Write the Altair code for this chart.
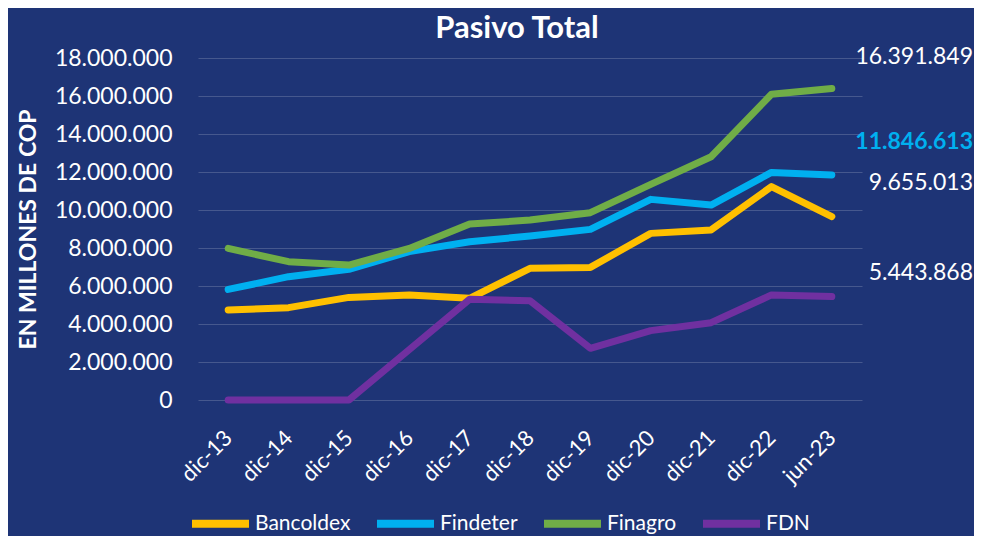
import altair as alt
import pandas as pd

periods = ["dic-13", "dic-14", "dic-15", "dic-16", "dic-17", "dic-18",
           "dic-19", "dic-20", "dic-21", "dic-22", "jun-23"]
series = ["Bancoldex", "Findeter", "Finagro", "FDN"]
colors = ["#FFC000", "#00B0F0", "#70AD47", "#7030A0"]

bancoldex = [4740000, 4860000, 5400000, 5530000, 5350000, 6930000,
             6980000, 8770000, 8950000, 11230000, 9655013]
findeter = [5820000, 6490000, 6880000, 7810000, 8330000, 8630000,
            8980000, 10560000, 10260000, 11980000, 11846613]
finagro = [7980000, 7280000, 7100000, 7980000, 9260000, 9470000,
           9860000, 11350000, 12800000, 16090000, 16391849]
fdn = [0, 0, 0, 2650000, 5300000, 5230000,
       2720000, 3650000, 4070000, 5530000, 5443868]

y_ticks = [0, 2000000, 4000000, 6000000, 8000000, 10000000,
           12000000, 14000000, 16000000, 18000000]

values = {"Bancoldex": bancoldex, "Findeter": findeter,
          "Finagro": finagro, "FDN": fdn}

rows = []
for s in series:
    for p, v in zip(periods, values[s]):
        rows.append({"Periodo": p, "Serie": s, "Valor": v})
df = pd.DataFrame(rows)

def fmt(v):
    return f"{v:,.0f}".replace(",", ".")

last = pd.DataFrame([{"Periodo": periods[-1], "Serie": s,
                      "Valor": values[s][-1], "Etiqueta": fmt(values[s][-1])}
                     for s in series])

FONT = "Lato"
Y_SCALE = alt.Scale(domain=[0, 18000000], nice=False, zero=True)

Y_AXIS = alt.Axis(values=y_ticks, labelOverlap=False,
                  labelBound=False, labelFlush=False,
                  labelExpr="replace(replace(format(datum.value, ','), ',', '.'), ',', '.')",
                  labelFontSize=23, labelColor="white", labelFont=FONT,
                  labelPadding=26, ticks=False, domain=False,
                  grid=True, gridColor="#ffffff", gridOpacity=0.18,
                  gridWidth=1.2,
                  titleFont=FONT, titleFontSize=23, titleColor="white",
                  titleFontWeight="bold", titlePadding=14)

x_enc = alt.X("Periodo:O", sort=periods, title=None,
              axis=alt.Axis(labelAngle=315, labelAlign="right",
                            labelBaseline="middle", labelPadding=34,
                            labelFontSize=22, labelColor="white",
                            labelFont=FONT, domain=False, ticks=False,
                            grid=False, labelOverlap=False))

def y_enc():
    return alt.Y("Valor:Q", title="EN MILLONES DE COP", scale=Y_SCALE,
                 axis=Y_AXIS)

lines = alt.Chart(df).mark_line(strokeWidth=7, strokeCap="round",
                                strokeJoin="round").encode(
    x=x_enc,
    y=y_enc(),
    color=alt.Color("Serie:N", sort=series,
                    scale=alt.Scale(domain=series, range=colors),
                    legend=alt.Legend(title=None, orient="none",
                                      direction="horizontal",
                                      legendX=-10, legendY=433,
                                      symbolType="stroke",
                                      symbolSize=3249, symbolStrokeWidth=8,
                                      labelFontSize=21, labelColor="white",
                                      labelFont=FONT, labelOffset=2,
                                      columnPadding=10)),
    order=alt.Order("Serie:N")
)

def label_layer(name, dy, color="white", weight="normal"):
    return alt.Chart(last[last["Serie"] == name]).mark_text(
        align="right", baseline="middle", dy=dy, fontSize=23,
        font=FONT, color=color, fontWeight=weight
    ).encode(
        x=alt.value(775),
        y=y_enc(),
        text="Etiqueta:N"
    )

labels = (label_layer("Finagro", -32)
          + label_layer("Findeter", -33, "#00B0F0", "bold")
          + label_layer("Bancoldex", -34)
          + label_layer("FDN", -24))

chart = alt.layer(lines, labels).properties(
    width=664, height=342,
    title=alt.TitleParams("Pasivo Total", fontSize=31, fontWeight="bold",
                          color="white", font=FONT, anchor="middle",
                          dx=-13, offset=1),
    autosize=alt.AutoSizeParams(type="none"),
    padding={"left": 190, "top": 50, "right": 112, "bottom": 136}
).configure(background="#1e3476").configure_view(stroke=None)

chart.save("out.html", embed_options={"renderer": "svg", "actions": False})
